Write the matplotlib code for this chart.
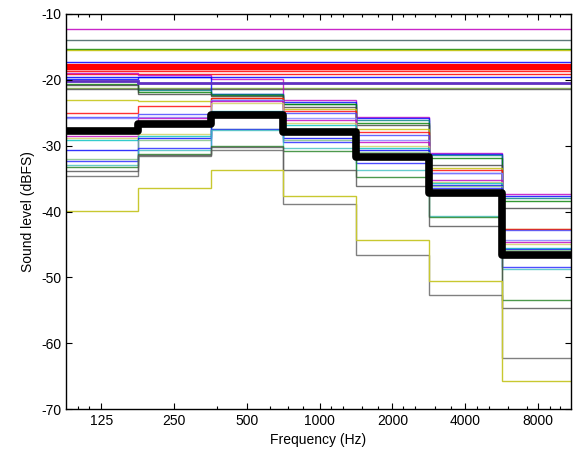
import numpy as np
import matplotlib
matplotlib.use("Agg")
import matplotlib.pyplot as plt

plt.rcParams['font.family'] = ['Liberation Sans', 'DejaVu Sans']
plt.rcParams['axes.unicode_minus'] = False

# — DATA —
BANDS      = [125, 250, 500, 1000, 2000, 4000, 8000]
BAND_EDGES = [88, 177, 354, 707, 1414, 2828, 5657, 11314]
TICK_LABELS = ["125", "250", "500", "1000", "2000", "4000", "8000"]
MINOR_TICKS = [100, 111, 375, 625, 740, 855, 1120, 1250, 1500, 1750,
               2220, 2480, 3000, 3500, 4480, 5000, 6000, 7200, 9000, 9850]

# mean spectrum (thick black)
MEAN_LEVEL = [-27.7, -26.7, -25.3, -27.9, -31.7, -37.2, -46.6]

# tracks that are flat over all bands (level, colour)
FLAT_LEVELS = [-12.3, -14.0, -15.3, -15.5, -17.3, -17.75, -18.05, -18.35,
               -18.65, -19.1, -19.5, -21.2, -21.35]
FLAT_COLORS = ["#c000c0", "#406060", "#008000", "#c0c000", "#0000ff",
               "#ff0000", "#ff0000", "#ff0000", "#ff0000", "#ff0000",
               "#0000ff", "#80b040", "#505050"]

# per-band tracks (dB), one row per band
BAND1 = [-18.9, -19.9, -20.2, -20.6, -20.8, -23.1, -25.1, -25.7, -25.8,
         -28.5, -28.9, -29.1, -30.7, -32.1, -32.4, -32.9, -33.2, -33.9, -34.6]
BAND2 = [-19.3, -19.6, -21.5, -21.9, -22.1, -23.2, -24.0, -25.2, -25.6,
         -25.8, -28.2, -28.5, -28.9, -29.1, -30.4, -30.7, -31.2, -31.4, -31.6]
BAND3 = [-19.9, -22.1, -22.2, -22.3, -22.5, -22.7, -22.8, -23.0, -23.1,
         -23.2, -23.5, -24.8, -24.9, -27.4, -27.5, -27.6, -30.1, -30.2, -30.6]
BAND4 = [-23.1, -23.3, -23.6, -23.7, -24.2, -24.4, -24.7, -25.0, -25.8,
         -26.1, -26.5, -26.8, -28.9, -29.1, -29.4, -30.3, -30.8, -33.7, -38.9]
BAND5 = [-25.6, -25.8, -26.1, -26.6, -26.9, -27.5, -27.9, -28.4, -29.1,
         -29.4, -30.1, -30.4, -30.7, -30.9, -32.7, -33.7, -34.8, -36.1, -46.6]
BAND6 = [-31.1, -31.3, -31.4, -31.8, -33.0, -33.4, -33.7, -34.1, -34.2,
         -35.2, -35.5, -35.7, -35.9, -36.2, -36.5, -40.7, -40.9, -42.2, -52.7]
BAND7 = [-37.4, -37.7, -38.0, -38.4, -39.4, -42.6, -42.7, -42.8, -44.4,
         -44.6, -45.0, -45.5, -45.7, -45.9, -48.5, -48.7, -53.5, -54.6, -62.2]
TRACK_COLORS = ["#c000c0", "#0000ff", "#008080", "#008000", "#404040",
                "#c0c000", "#ff0000", "#4040ff", "#8080ff", "#c000c0",
                "#d0d060", "#00c0c0", "#0000ff", "#80c080", "#2020ff",
                "#40c0c0", "#208020", "#505050", "#606060"]

# tracks drawn separately
PURPLE_LEVEL = [-20.2, -20.45, -20.45, -20.45, -20.45, -20.45, -20.45]
YELLOW_LEVEL = [-39.9, -36.4, -33.7, -37.7, -44.3, -50.5, -65.7]


def main():
    fig = plt.figure(figsize=(5.75, 4.53), dpi=100)
    ax = fig.add_axes([0.1148, 0.0971, 0.878, 0.872])

    for lev, col in zip(FLAT_LEVELS, FLAT_COLORS):
        ax.stairs([lev] * len(BANDS), BAND_EDGES, baseline=None,
                  color=col, lw=1.0, alpha=0.85)
    # thick red cluster
    ax.stairs([FLAT_LEVELS[6]] * len(BANDS), BAND_EDGES, baseline=None,
              color="#ff0000", lw=4.5)

    tracks = np.array([BAND1, BAND2, BAND3, BAND4, BAND5, BAND6, BAND7]).T
    for vals, col in zip(tracks, TRACK_COLORS):
        ax.stairs(vals, BAND_EDGES, baseline=None, color=col, lw=1.0, alpha=0.8)

    ax.stairs(PURPLE_LEVEL, BAND_EDGES, baseline=None, color="#6030c0", lw=2.0)
    ax.stairs(YELLOW_LEVEL, BAND_EDGES, baseline=None, color="#c8c830", lw=1.0)
    mean = ax.stairs(MEAN_LEVEL, BAND_EDGES, baseline=None, color="black",
                     lw=5.5, zorder=5)
    mean.set_joinstyle("round")

    ax.set_xscale("log")
    ax.set_xlim(89.4, 10950)
    ax.set_ylim(-70, -10)
    ax.set_xticks(BANDS)
    ax.set_xticklabels(TICK_LABELS)
    ax.set_xticks(MINOR_TICKS, minor=True)
    ax.xaxis.set_minor_formatter(matplotlib.ticker.NullFormatter())
    ax.set_yticks(np.arange(-70, -9, 10))
    ax.tick_params(which="both", direction="in", top=True, right=True,
                   labelsize=10, width=0.8)
    ax.tick_params(which="major", length=4)
    ax.tick_params(which="minor", length=2.5)
    for sp in ax.spines.values():
        sp.set_linewidth(1.0)

    ax.set_xlabel("Frequency (Hz)", fontsize=10)
    ax.set_ylabel("Sound level (dBFS)", fontsize=10)

    fig.savefig("out.png", dpi=100)


if __name__ == "__main__":
    main()
